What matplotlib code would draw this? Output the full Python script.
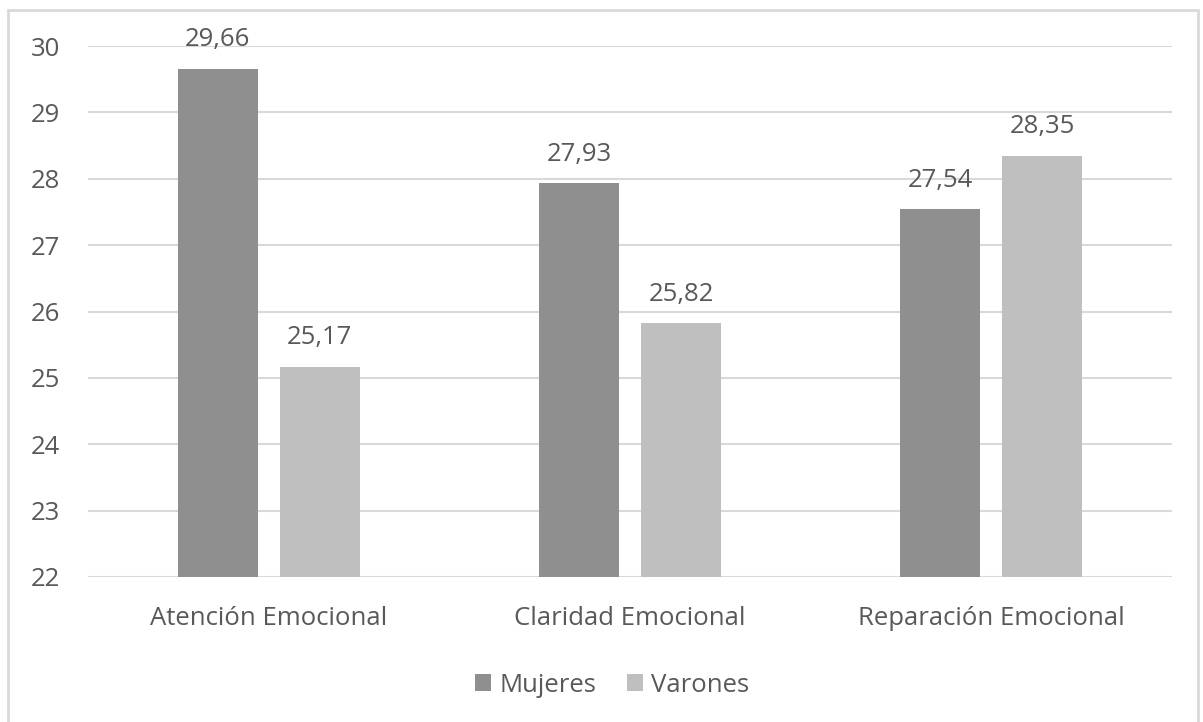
import matplotlib
matplotlib.use("Agg")
import matplotlib.pyplot as plt
import numpy as np
from matplotlib.patches import Rectangle

categories = ["Atención Emocional", "Claridad Emocional", "Reparación Emocional"]
series_names = ["Mujeres", "Varones"]
mujeres = [29.66, 27.93, 27.54]
varones = [25.17, 25.82, 28.35]
yticks = [22, 23, 24, 25, 26, 27, 28, 29, 30]

plt.rcParams['font.family'] = ['Open Sans', 'DejaVu Sans']
txt = '#595959'
fs = 18.5

fig = plt.figure(figsize=(12.03, 7.22), dpi=100)
fig.patches.append(Rectangle((8/1203, -0.05), (1198-8)/1203, 1.05 - 10/722, transform=fig.transFigure,
                             fill=False, edgecolor='#d9d9d9', linewidth=2))
ax = fig.add_axes([88/1203, 1-577/722, (1172-88)/1203, (577-46)/722])

x = np.arange(len(categories))
w = 0.222
off = 0.141
b1 = ax.bar(x - off, mujeres, w, color='#8f8f8f', label=series_names[0], zorder=3)
b2 = ax.bar(x + off, varones, w, color='#bfbfbf', label=series_names[1], zorder=3)
for bars, vals in ((b1, mujeres), (b2, varones)):
    for r, v in zip(bars, vals):
        ax.annotate(f"{v:.2f}".replace('.', ','), (r.get_x() + r.get_width()/2, v),
                    xytext=(0, 16), textcoords='offset points',
                    ha='center', va='baseline', fontsize=fs, color=txt, zorder=4)

ax.set_ylim(22, 30)
ax.set_xlim(-0.5, 2.5)
ax.set_yticks(yticks)
ax.set_yticklabels([str(t) for t in yticks], fontsize=fs, color=txt)
ax.set_xticks(x)
ax.set_xticklabels(categories, fontsize=fs, color=txt)
ax.tick_params(axis='both', length=0)
ax.tick_params(axis='y', pad=20)
ax.tick_params(axis='x', pad=21)
ax.grid(axis='y', color='#d9d9d9', linewidth=1.5, zorder=0)
for s in ax.spines.values():
    s.set_visible(False)

fig.legend(handles=[b1, b2], labels=series_names, loc='center', bbox_to_anchor=(612/1203, 1-685/722),
           ncol=2, frameon=False, fontsize=fs, labelcolor=txt, handlelength=0.65, handleheight=0.65,
           handletextpad=0.3, columnspacing=1.2)

fig.savefig("out.png", dpi=100)
